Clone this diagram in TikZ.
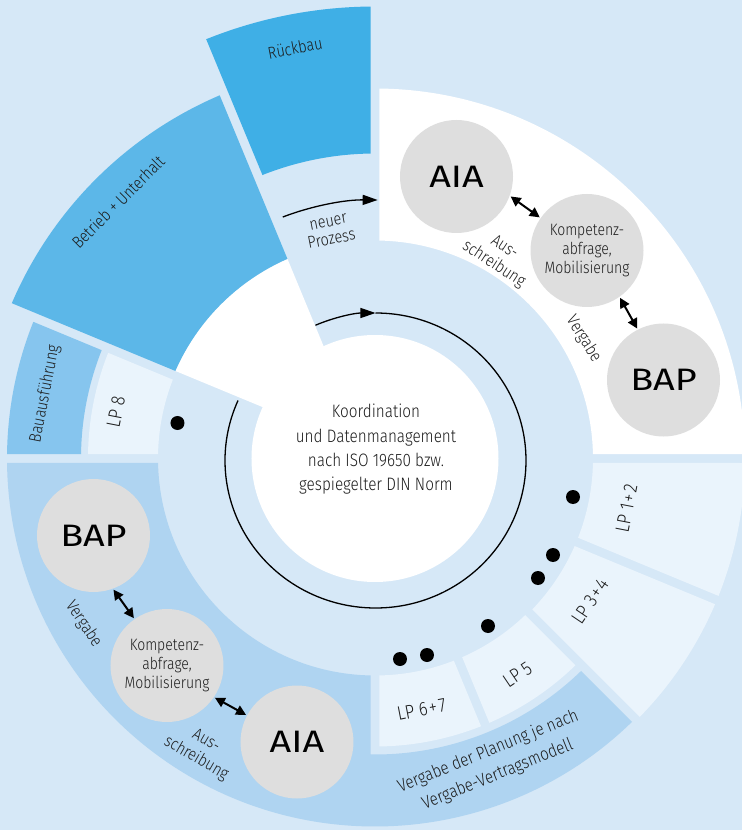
\documentclass[tikz,border=0pt]{standalone}
\usepackage{fontspec}
\setmainfont{Fira Sans}[UprightFont=* Light, FakeStretch=0.85]
\newfontfamily\bigfont{Fira Sans}[FakeStretch=1.22]
\usetikzlibrary{arrows.meta,calc}
\definecolor{bgblue}{HTML}{D6E8F7}
\definecolor{rueck}{HTML}{3FAFE6}
\definecolor{betrieb}{HTML}{5CB7E8}
\definecolor{bau}{HTML}{86C5EE}
\definecolor{midblue}{HTML}{AFD4F1}
\definecolor{pale}{HTML}{EAF4FC}
\definecolor{bubblegray}{HTML}{DEDEDE}
\definecolor{txt}{HTML}{1C1C1C}
\newcommand{\ringsec}[6]{%
  \pgfmathsetmacro\rsA{#2+asin(#6/#4)}%
  \pgfmathsetmacro\rsB{#3-asin(#6/#4)}%
  \pgfmathsetmacro\rsC{#2+asin(#6/#5)}%
  \pgfmathsetmacro\rsD{#3-asin(#6/#5)}%
  \fill[#1] (\rsA:#4pt) arc[start angle=\rsA, end angle=\rsB, radius=#4pt] -- (\rsD:#5pt) arc[start angle=\rsD, end angle=\rsC, radius=#5pt] -- cycle;
}
\newcommand{\pk}{\kern1.6pt}
\tikzset{
  lbl/.style={text=txt, font=\fontsize{17}{20}\selectfont, align=center, inner sep=0pt},
  lplbl/.style={text=txt, font=\fontsize{19.5}{22}\selectfont, inner sep=0pt},
  bubble/.style={circle, fill=bubblegray, minimum size=113pt, inner sep=0pt, text=black},
  bigtxt/.style={font=\bigfont\fontsize{31}{31}\selectfont},
  komptxt/.style={font=\fontsize{16.5}{19}\selectfont, align=center, text=txt},
  dbl/.style={line width=2pt, shorten <=1pt, shorten >=1pt, {Triangle[length=10pt,width=10pt]}-{Triangle[length=10pt,width=10pt]}},
  blackdot/.style={circle, fill=black, minimum size=14pt, inner sep=0pt},
  flowarc/.style={line width=1.3pt, draw=black},
}
\begin{document}
\begin{tikzpicture}[x=1pt,y=1pt]
\useasboundingbox (-375,-371.5) rectangle (367,458.5);
\clip (-375,-371.5) rectangle (367,458.5);
\fill[bgblue] (-375,-371.5) rectangle (367,458.5);
% sectors
\ringsec{white}{112.5}{157.5}{20}{218}{4.5}
\ringsec{betrieb}{112.5}{157.5}{218}{395}{4.5}
\ringsec{rueck}{90}{112.5}{305}{452}{4.5}
\ringsec{white}{0}{90}{218}{370}{4.5}
\ringsec{bau}{157.5}{180}{294}{368}{4.5}
\ringsec{pale}{157.5}{180}{217}{287}{4.5}
\ringsec{pale}{-22.5}{0}{218}{370}{4.5}
\ringsec{pale}{-45}{-22.5}{218}{370}{4.5}
\ringsec{pale}{-67.5}{-45}{217}{288}{4.5}
\ringsec{pale}{-90}{-67.5}{217}{288}{4.5}
% medium blue L-shape
\pgfmathsetmacro\mA{180+asin(4.5/368)}
\pgfmathsetmacro\mB{315-asin(4.5/368)}
\pgfmathsetmacro\mC{315-asin(4.5/296)}
\pgfmathsetmacro\mD{270-asin(4.5/296)}
\pgfmathsetmacro\mE{270-asin(4.5/217)}
\pgfmathsetmacro\mF{180+asin(4.5/217)}
\fill[midblue] (\mA:368pt) arc[start angle=\mA, end angle=\mB, radius=368pt] -- (\mC:296pt) arc[start angle=\mC, end angle=\mD, radius=296pt] -- (\mE:217pt) arc[start angle=\mE, end angle=\mF, radius=217pt] -- cycle;
% central disk
\fill[white] (0,0) circle[radius=123.5pt];
% inner cycle arrow
\draw[flowarc, -{Triangle[length=15pt,width=10pt]}] ($(0.5,-2)+(113.5:150.5pt and 147.5pt)$) arc[start angle=113.5, end angle=90, x radius=150.5pt, y radius=147.5pt];
\draw[flowarc] ($(0.5,-2)+(90:150.5pt and 147.5pt)$) arc[start angle=90, end angle=-204, x radius=150.5pt, y radius=147.5pt];
% neuer Prozess arrow
\draw[flowarc, -{Triangle[length=15pt,width=10pt]}] (110.9:258.5pt) arc[start angle=110.9, end angle=89.4, radius=258.5pt];
% dots
\node[blackdot] (d1) at (-197.5,35.5) {};
\node[blackdot] (d2) at (198,-38.5) {};
\node[blackdot] (d3) at (178,-96.5) {};
\node[blackdot] (d4) at (163,-119.5) {};
\node[blackdot] (d5) at (113,-167.5) {};
\node[blackdot] (d6) at (52,-196.5) {};
\node[blackdot] (d7) at (25,-200.5) {};
% bubbles upper right
\node[bubble, bigtxt] (aiaU) at (81.5,282) {AIA};
\node[bubble, komptxt] (kompU) at (212,208) {Kompetenz-\\abfrage,\\Mobilisierung};
\node[bubble, bigtxt] (bapU) at (288.5,78.5) {BAP};
% bubbles lower left
\node[bubble, bigtxt] (bapL) at (-281.5,-77) {BAP};
\node[bubble, komptxt] (kompL) at (-208,-207) {Kompetenz-\\abfrage,\\Mobilisierung};
\node[bubble, bigtxt] (aiaL) at (-78,-283.5) {AIA};
\draw[dbl] (aiaU.-20) -- (kompU.145);
\draw[dbl] (kompU.-55) -- (bapU.117);
\draw[dbl] (bapL.-70) -- (kompL.125);
\draw[dbl] (kompL.-34) -- (aiaL.152);
% labels
\node[lbl, rotate=11] (rueckT) at (-80,410.5) {Rückbau};
\node[lbl, rotate=45] (betriebT) at (-257,256.5) {Betrieb + Unterhalt};
\node[lbl, rotate=79] (bauT) at (-330,64.5) {Bauausführung};
\node[lplbl, rotate=79] (lp8T) at (-259,46.5) {LP 8};
\node[lbl, rotate=11, font=\fontsize{17}{18}\selectfont] (neuerT) at (-45,227.5) {neuer\\Prozess};
\node[lplbl, rotate=79] (lp12T) at (251.5,-50) {LP 1\pk+\pk2};
\node[lplbl, rotate=56] (lp34T) at (215,-143) {LP 3\pk+\pk4};
\node[lplbl, rotate=34] (lp5T) at (142.5,-216) {LP 5};
\node[lplbl, rotate=11] (lp67T) at (46.5,-251) {LP 6\pk+\pk7};
\node[lbl, rotate=22, font=\fontsize{17.8}{25}\selectfont] (vergPlanT) at (118,-304.5) {Vergabe der Planung je nach\\Vergabe-Vertragsmodell};
\node[lbl, rotate=-33] (ausU) at (124,202.5) {Aus-\\schreibung};
\node[lbl, rotate=-58] (vergU) at (208.5,119.5) {Vergabe};
\node[lbl, rotate=-56] (vergL) at (-291.5,-165.5) {Vergabe};
\node[lbl, rotate=-30] (ausL) at (-174,-291.5) {Aus-\\schreibung};
\node[text=txt, align=center, inner sep=0pt, font=\fontsize{18}{24.3}\selectfont] (ctr) at (1,9) {Koordination\\und Datenmanagement\\nach ISO 19650 bzw.\\gespiegelter DIN Norm};
\end{tikzpicture}
\end{document}
